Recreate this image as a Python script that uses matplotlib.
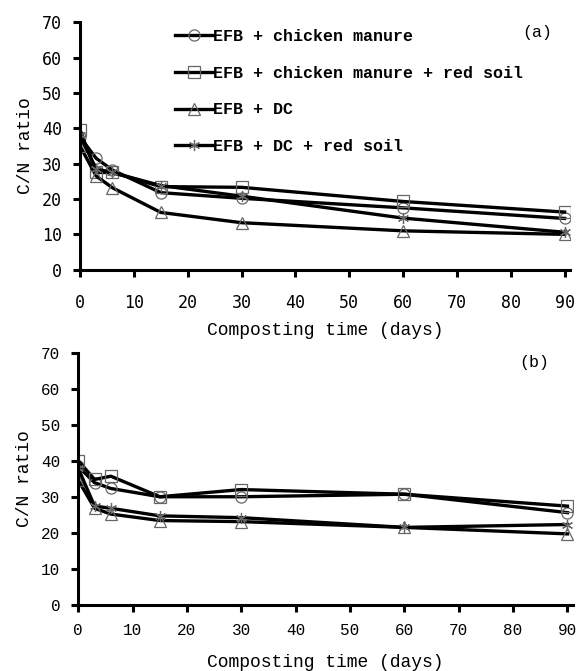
import numpy as np
import matplotlib.pyplot as plt

days = [0, 3, 6, 15, 30, 60, 90]
labels = ['EFB + chicken manure',
          'EFB + chicken manure + red soil',
          'EFB + DC',
          'EFB + DC + red soil']

# panel (a)
a_cm = [37.5, 31.5, 28.2, 21.8, 20.2, 17.5, 14.5]
a_cm_rs = [39.5, 27.5, 27.5, 23.5, 23.3, 19.3, 16.3]
a_dc = [35.0, 26.5, 23.2, 16.2, 13.3, 11.0, 10.0]
a_dc_rs = [38.0, 28.5, 27.5, 23.8, 20.8, 14.6, 10.6]

# panel (b)
b_cm = [38.5, 34.0, 32.4, 30.1, 30.1, 30.8, 25.7]
b_cm_rs = [40.1, 34.9, 35.8, 30.1, 32.1, 30.8, 27.5]
b_dc = [34.7, 26.9, 25.3, 23.5, 23.2, 21.6, 19.8]
b_dc_rs = [38.0, 27.5, 26.9, 24.8, 24.3, 21.6, 22.4]

markers = ['o', 's', '^', (6, 2, 0)]
mono = 'Liberation Mono'

fig = plt.figure(figsize=(5.84, 6.71), dpi=100)
ax1 = fig.add_axes([0.137, 0.598, 0.839, 0.369])
ax2 = fig.add_axes([0.134, 0.098, 0.847, 0.376])


def draw(ax, series, tickfont, ticksize, xpad, labelpad):
    for ys, m, lab in zip(series, markers, labels):
        ax.plot(days, ys, color='black', lw=2.4, marker=m, ms=8,
                mfc='none', mec='#666666', mew=0.9, label=lab)
    ax.set_xlim(0, 91)
    ax.set_ylim(0, 70)
    ax.set_xticks(range(0, 100, 10))
    ax.set_yticks(range(0, 80, 10))
    for s in ['top', 'right']:
        ax.spines[s].set_visible(False)
    for s in ['left', 'bottom']:
        ax.spines[s].set_linewidth(2.2)
    ax.tick_params(width=2.2, length=5, direction='out', pad=8)
    ax.tick_params(axis='x', pad=xpad)
    for t in ax.get_xticklabels() + ax.get_yticklabels():
        t.set_family(tickfont)
        t.set_fontsize(ticksize)
    ax.set_xlabel('Composting time (days)', family=mono, fontsize=13,
                  labelpad=labelpad)
    ax.set_ylabel('C/N ratio', family=mono, fontsize=13, labelpad=6)


draw(ax1, [a_cm, a_cm_rs, a_dc, a_dc_rs], 'DejaVu Sans Mono', 12, 12.5, 7)
draw(ax2, [b_cm, b_cm_rs, b_dc, b_dc_rs], mono, 11.5, 8, 11)

leg = ax1.legend(loc='upper left', bbox_to_anchor=(0.288, 0.967),
                 bbox_transform=fig.transFigure, frameon=False,
                 prop={'family': mono, 'weight': 'bold', 'size': 12},
                 handlelength=2.3, handletextpad=0.0, labelspacing=1.31,
                 borderaxespad=0)

ax1.text(537, 671 - 33, '(a)', transform=None, family=mono,
         fontsize=12, ha='center', va='center')
ax2.text(534, 671 - 363, '(b)', transform=None, family=mono,
         fontsize=12, ha='center', va='center')

plt.savefig('out.png')
